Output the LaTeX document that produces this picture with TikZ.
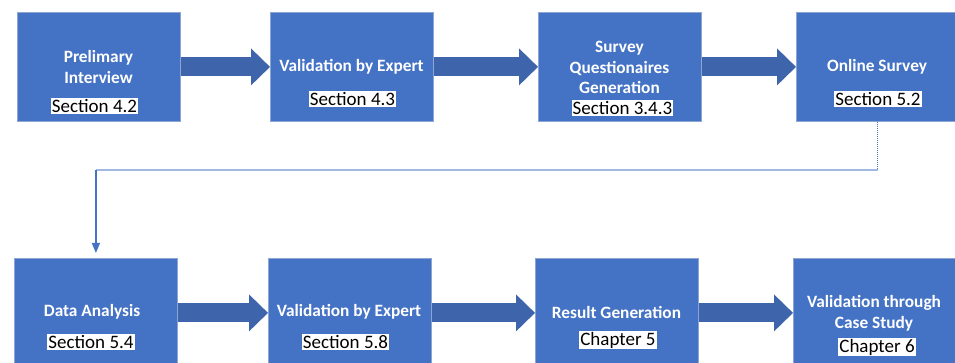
\documentclass[tikz,border=0pt]{standalone}
\usepackage{fontspec}
\setmainfont{Carlito}
\usetikzlibrary{arrows.meta}
\definecolor{boxblue}{RGB}{68,114,196}
\definecolor{arrblue}{RGB}{62,101,172}
\definecolor{lineblue}{RGB}{160,184,226}
\definecolor{edgeblue}{RGB}{140,165,210}
\begin{document}
\begin{tikzpicture}[x=1pt,y=-1pt,
  stepbox/.style={draw=edgeblue, line width=0.8pt, fill=boxblue, minimum width=163pt, minimum height=109pt, inner sep=0pt, anchor=north west},
  title/.style={text=white, font=\fontsize{17.3}{20.5}\selectfont\bfseries, align=center, inner sep=0pt},
  sec/.style={fill=white, text=black, font=\fontsize{19}{20}\selectfont, inner sep=1pt},
  blockarrow/.style={arrblue, line width=19pt, -{Triangle[length=19pt,width=37pt,line width=0pt 0]}},
  thinarrow/.style={boxblue, line width=1.2pt, -{Triangle[length=10pt,width=8pt]}}
]
\useasboundingbox (0,0) rectangle (955,363);
% top row
\node[stepbox] (b1) at (17,12) {};
\node[stepbox] (b2) at (270,12) {};
\node[stepbox] (b3) at (538,12) {};
\node[stepbox] (b4) at (796,12) {};
% bottom row
\node[stepbox] (b5) at (14,258) {};
\node[stepbox] (b6) at (268,258) {};
\node[stepbox] (b7) at (535,258) {};
\node[stepbox] (b8) at (793,258) {};
% titles
\node[title] (t1) at (98.5,67) {Prelimary\\Interview};
\node[title] (t2) at (351.5,67) {Validation by Expert};
\node[title] (t3) at (619.5,67.5) {Survey\\Questionaires\\Generation};
\node[title] (t4) at (877,67) {Online Survey};
\node[title] (t5) at (92,312) {Data Analysis};
\node[title] (t6) at (349,312) {Validation by Expert};
\node[title] (t7) at (616.5,312) {Result Generation};
\node[title] (t8) at (874,313.5) {Validation through\\Case Study};
% section labels
\node[sec] (s1) at (94.5,106) {Section 4.2};
\node[sec] (s2) at (352.5,99) {Section 4.3};
\node[sec] (s3) at (622.5,108) {Section 3.4.3};
\node[sec] (s4) at (878,99) {Section 5.2};
\node[sec] (s5) at (91,342) {Section 5.4};
\node[sec] (s6) at (345.5,342) {Section 5.8};
\node[sec] (s7) at (618,340) {Chapter 5};
\node[sec] (s8) at (877,347) {Chapter 6};
% block arrows
\draw[blockarrow] (b1.east) -- (b2.west);
\draw[blockarrow] (b2.east) -- (b3.west);
\draw[blockarrow] (b3.east) -- (b4.west);
\draw[blockarrow] (b5.east) -- (b6.west);
\draw[blockarrow] (b6.east) -- (b7.west);
\draw[blockarrow] (b7.east) -- (b8.west);
% connector from Online Survey to Data Analysis
\coordinate (k1) at (878,170);
\draw[boxblue, line width=1pt, densely dotted] (b4.south) -- (b4.south |- k1);
\draw[lineblue, line width=2.5pt] (b4.south |- k1) -- (b5.north |- k1);
\draw[thinarrow, shorten >=5pt] (b5.north |- k1) -- (b5.north);
\end{tikzpicture}
\end{document}
